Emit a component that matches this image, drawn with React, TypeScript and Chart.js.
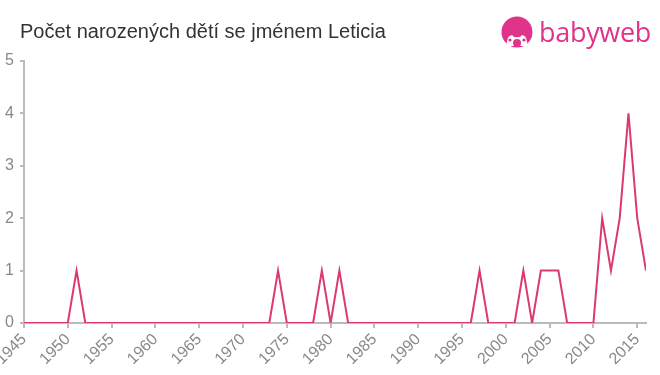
import React, { useEffect, useRef } from "react";
import { Chart, registerables } from "chart.js";

Chart.register(...registerables);

const TITLE = "Počet narozených dětí se jménem Leticia";

const years = [
  1945, 1946, 1947, 1948, 1949, 1950, 1951, 1952, 1953, 1954,
  1955, 1956, 1957, 1958, 1959, 1960, 1961, 1962, 1963, 1964,
  1965, 1966, 1967, 1968, 1969, 1970, 1971, 1972, 1973, 1974,
  1975, 1976, 1977, 1978, 1979, 1980, 1981, 1982, 1983, 1984,
  1985, 1986, 1987, 1988, 1989, 1990, 1991, 1992, 1993, 1994,
  1995, 1996, 1997, 1998, 1999, 2000, 2001, 2002, 2003, 2004,
  2005, 2006, 2007, 2008, 2009, 2010, 2011, 2012, 2013, 2014,
  2015, 2016,
];

const counts = [
  0, 0, 0, 0, 0, 0, 1, 0, 0, 0,
  0, 0, 0, 0, 0, 0, 0, 0, 0, 0,
  0, 0, 0, 0, 0, 0, 0, 0, 0, 1,
  0, 0, 0, 0, 1, 0, 1, 0, 0, 0,
  0, 0, 0, 0, 0, 0, 0, 0, 0, 0,
  0, 0, 1, 0, 0, 0, 0, 1, 0, 1,
  1, 1, 0, 0, 0, 0, 2, 1, 2, 4,
  2, 1,
];

const yTicks = [0, 1, 2, 3, 4, 5];

const FONT = "'Liberation Sans', Arial, sans-serif";
const PINK = "#e0338a";

export default function App() {
  const ref = useRef<HTMLCanvasElement | null>(null);

  useEffect(() => {
    if (!ref.current) return;
    const chart = new Chart(ref.current, {
      type: "line",
      data: {
        datasets: [
          {
            data: years.map((y, i) => ({ x: y, y: counts[i] })),
            borderColor: "#dc3a6c",
            borderWidth: 2,
            pointRadius: 0,
            tension: 0,
            fill: false,
          },
        ],
      },
      options: {
        animation: false,
        responsive: false,
        maintainAspectRatio: false,
        layout: { padding: { top: 61, right: 14, left: 0, bottom: 0 } },
        plugins: { legend: { display: false }, tooltip: { enabled: false }, title: { display: false } },
        scales: {
          x: {
            type: "linear",
            min: years[0],
            max: years[years.length - 1],
            grid: { display: true, drawOnChartArea: false, drawTicks: true, tickLength: 5, color: "#bbbbbb", lineWidth: 2 },
            border: { display: true, color: "#bbbbbb", width: 2 },
            ticks: {
              stepSize: 5,
              includeBounds: false,
              autoSkip: false,
              minRotation: 45,
              maxRotation: 45,
              padding: 2,
              color: "#888888",
              font: { family: FONT, size: 16 },
              callback: (v: any) => String(v),
            },
            afterFit: (s: any) => {
              s.height = 52;
              s.paddingLeft = 0;
              s.paddingRight = 0;
            },
          },
          y: {
            min: yTicks[0],
            max: yTicks[yTicks.length - 1],
            grid: { display: true, drawOnChartArea: false, drawTicks: true, tickLength: 4, color: "#bbbbbb", lineWidth: 2 },
            border: { display: true, color: "#bbbbbb", width: 2 },
            ticks: {
              stepSize: 1,
              padding: 6,
              color: "#888888",
              font: { family: FONT, size: 16 },
              callback: (v: any) => String(v),
            },
            afterFit: (s: any) => {
              s.width = 24;
              s.paddingTop = 0;
              s.paddingBottom = 0;
            },
          },
        },
      },
    });
    return () => chart.destroy();
  }, []);

  return (
    <div style={{ position: "absolute", left: 0, top: 0, width: 660, height: 375, background: "#fff", overflow: "hidden" }}>
      <canvas ref={ref} width={660} height={375} style={{ position: "absolute", left: 0, top: 0 }} />
      <div
        style={{
          position: "absolute",
          left: 20,
          top: 19,
          fontFamily: FONT,
          fontSize: 20,
          color: "#333333",
          whiteSpace: "nowrap",
          lineHeight: "24px",
        }}
      >
        {TITLE}
      </div>
      <svg width={34} height={34} viewBox="0 0 34 34" style={{ position: "absolute", left: 500, top: 16 }}>
        <circle cx={17} cy={16} r={15.5} fill={PINK} />
        <path d="M7 30 Q6 20 12 19 Q14 22 17 21 Q20 22 22 19 Q28 20 27 30 Z" fill="#fff" />
        <circle cx={17} cy={27} r={4} fill={PINK} />
        <circle cx={10} cy={24} r={1.6} fill={PINK} />
        <circle cx={24} cy={24} r={1.6} fill={PINK} />
      </svg>
      <div
        style={{
          position: "absolute",
          left: 539,
          top: 14,
          fontFamily: "'Open Sans', 'Noto Sans', sans-serif",
          fontSize: 27,
          color: PINK,
          whiteSpace: "nowrap",
          lineHeight: "36px",
          letterSpacing: -0.3,
        }}
      >
        babyweb
      </div>
    </div>
  );
}
